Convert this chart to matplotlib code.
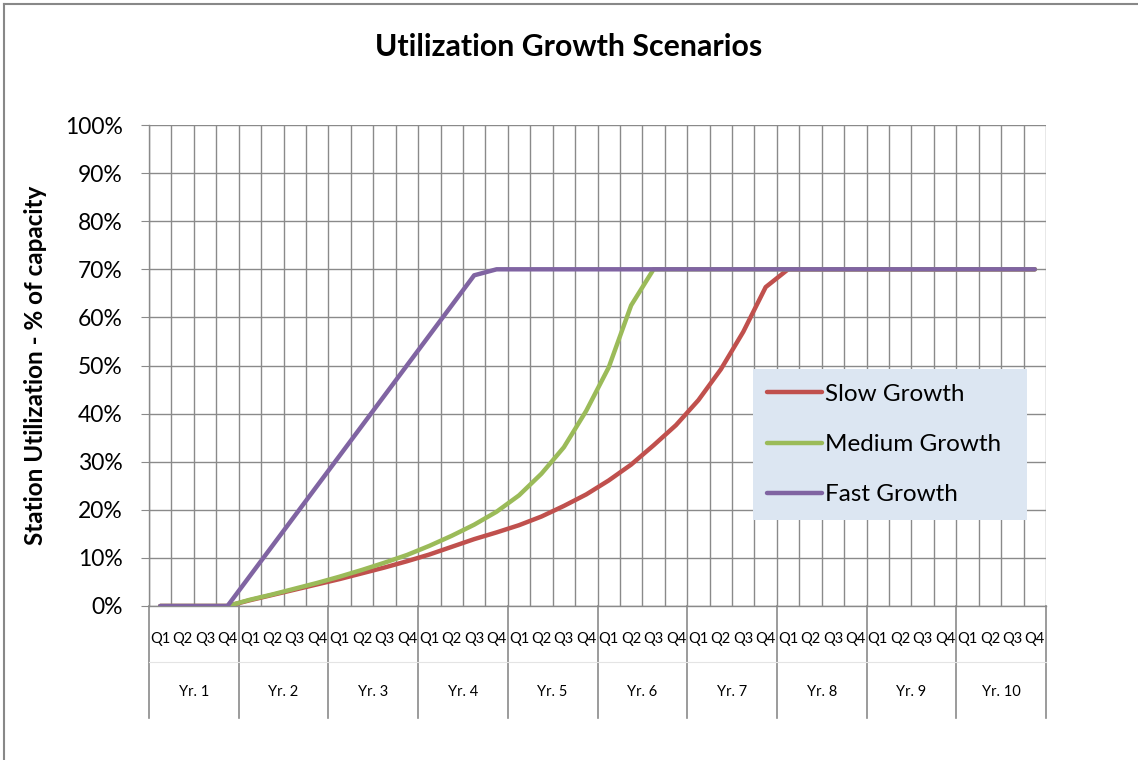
import numpy as np
import matplotlib
matplotlib.use('Agg')
import matplotlib.pyplot as plt
from matplotlib.lines import Line2D
import matplotlib.transforms as mtransforms

plt.rcParams['font.family'] = ['Lato', 'DejaVu Sans']

# ==============================
# Data
# ==============================
years = ['Yr. 1', 'Yr. 2', 'Yr. 3', 'Yr. 4', 'Yr. 5',
         'Yr. 6', 'Yr. 7', 'Yr. 8', 'Yr. 9', 'Yr. 10']
quarters = ['Q1', 'Q2', 'Q3', 'Q4']

slow_growth = [0, 0, 0, 0, 1.2, 2.3, 3.4, 4.5, 5.6, 6.8,
               8.0, 9.3, 10.7, 12.3, 13.9, 15.3, 16.8, 18.6, 20.8, 23.2,
               26.1, 29.4, 33.4, 37.6, 42.8, 49.2, 57.0, 66.3, 70, 70,
               70, 70, 70, 70, 70, 70, 70, 70, 70, 70]
medium_growth = [0, 0, 0, 0, 1.3, 2.4, 3.6, 4.8, 6.1, 7.5,
                 9.0, 10.6, 12.5, 14.6, 16.9, 19.6, 23.0, 27.5, 33.0, 40.6,
                 49.6, 62.5, 70, 70, 70, 70, 70, 70, 70, 70,
                 70, 70, 70, 70, 70, 70, 70, 70, 70, 70]
fast_growth = [0, 0, 0, 0, 6.25, 12.5, 18.75, 25.0, 31.25, 37.5,
               43.75, 50.0, 56.25, 62.5, 68.75, 70, 70, 70, 70, 70,
               70, 70, 70, 70, 70, 70, 70, 70, 70, 70,
               70, 70, 70, 70, 70, 70, 70, 70, 70, 70]

series = [('Slow Growth', slow_growth, '#C0504D'),
          ('Medium Growth', medium_growth, '#9BBB59'),
          ('Fast Growth', fast_growth, '#8064A2')]

n = len(years) * len(quarters)
x = np.arange(n)
grid_col = '#8a8a8a'

# ==============================
# Figure
# ==============================
fig = plt.figure(figsize=(11.38, 7.6), dpi=100)
ax = fig.add_axes([149 / 1138, 1 - 606 / 760, 897 / 1138, 481 / 760])

for name, vals, col in series:
    ax.plot(x, vals, color=col, lw=3.2, label=name, solid_capstyle='round', zorder=3)

ax.set_xlim(-0.5, n - 0.5)
ax.set_ylim(0, 100)
ax.set_yticks(np.arange(0, 101, 10))
ax.set_yticklabels([f'{v}%' for v in range(0, 101, 10)], fontsize=16.5)
ax.tick_params(axis='y', length=6, color=grid_col, pad=13)

# quarter labels as x ticks, gridlines at quarter boundaries
ax.set_xticks(x)
ax.set_xticklabels(quarters * len(years), fontsize=10.5)
ax.tick_params(axis='x', length=0, pad=19)
ax.set_xticks(np.arange(-0.5, n, 1), minor=True)
ax.tick_params(axis='x', which='minor', length=0)
ax.grid(True, which='minor', axis='x', color=grid_col, lw=1.0)
ax.grid(True, which='major', axis='y', color=grid_col, lw=1.0)
ax.set_axisbelow(True)

for s in ['top', 'right']:
    ax.spines[s].set_visible(False)
for s in ['left', 'bottom']:
    ax.spines[s].set_color(grid_col)
    ax.spines[s].set_linewidth(1.0)

# year labels and separators below the axis
trans = mtransforms.blended_transform_factory(ax.transData, ax.transAxes)
sep_depth = -(718 - 606) / 481
for i, yr in enumerate(years):
    ax.text(i * 4 + 1.5, -(692 - 606) / 481, yr, transform=trans,
            ha='center', va='center', fontsize=10.5)
for k in range(len(years) + 1):
    ax.add_line(Line2D([k * 4 - 0.5] * 2, [0, sep_depth], transform=trans,
                       color=grid_col, lw=1.2, clip_on=False))
ax.add_line(Line2D([-0.5, n - 0.5], [-(662 - 606) / 481] * 2, transform=trans,
                   color='#e4e4e4', lw=0.8, clip_on=False))

ax.set_ylabel('Station Utilization - % of capacity', fontsize=17.5,
              fontweight='bold', labelpad=13)
fig.text(0.5, 1 - 47 / 760, 'Utilization Growth Scenarios', ha='center',
         va='center', fontsize=21.8, fontweight='bold')

leg = ax.legend(loc='lower left', bbox_to_anchor=(0.673, 0.179, 0.306, 0.32),
                mode='expand', borderaxespad=0, fontsize=17.5, frameon=True,
                fancybox=False, handlelength=2.26, handletextpad=0.12,
                labelspacing=1.2, borderpad=0.6)
leg.get_frame().set_facecolor('#dce6f2')
leg.get_frame().set_edgecolor('none')
leg.get_frame().set_alpha(1)

# outer chart frame (cropped at right and bottom)
fig.add_artist(Line2D([4 / 1138, 4 / 1138], [0, 1 - 4 / 760],
                      transform=fig.transFigure, color='#888888', lw=1.5))
fig.add_artist(Line2D([4 / 1138, 1], [1 - 4 / 760, 1 - 4 / 760],
                      transform=fig.transFigure, color='#888888', lw=1.5))

fig.savefig('out.png', dpi=100)
